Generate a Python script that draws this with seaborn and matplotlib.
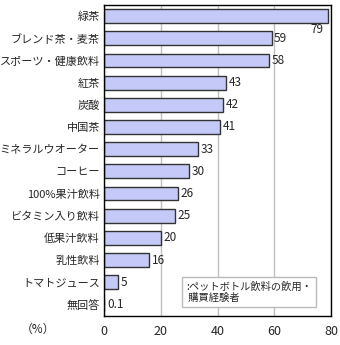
import matplotlib
matplotlib.use("Agg")
import matplotlib.pyplot as plt
import seaborn as sns
import pandas as pd
import numpy as np

categories = ["緑茶", "ブレンド茶・麦茶", "スポーツ・健康飲料", "紅茶", "炭酸", "中国茶",
              "ミネラルウオーター", "コーヒー", "100%果汁飲料", "ビタミン入り飲料",
              "低果汁飲料", "乳性飲料", "トマトジュース", "無回答"]
values = [79, 59, 58, 43, 42, 41, 33, 30, 26, 25, 20, 16, 5, 0.1]
value_labels = ["79", "59", "58", "43", "42", "41", "33", "30", "26", "25", "20", "16", "5", "0.1"]
xticks = [0, 20, 40, 60, 80]
legend_text = ":ペットボトル飲料の飲用・\n 購買経験者"

sns.set_style("white")
plt.rcParams['font.family'] = ['Noto Sans CJK JP', 'DejaVu Sans']

df = pd.DataFrame({"cat": categories, "val": values})

fig = plt.figure(figsize=(3.4, 3.45), dpi=100)
ax = fig.add_axes([0.306, 0.0855, 0.668, 0.90])

sns.barplot(data=df, y="cat", x="val", orient="h", color="#c4c9f7",
            edgecolor="#333333", linewidth=1.0, width=0.62, saturation=1, ax=ax)

ax.set_xlim(0, 80)
ax.set_ylim(len(categories) - 0.5, -0.5)
ax.set_xticks(xticks)
ax.set_xticklabels([str(t) for t in xticks], fontsize=9)
ax.tick_params(axis="x", length=0, pad=7)
ax.set_yticks(range(len(categories)))
ax.set_yticklabels(categories, fontsize=8)
ax.tick_params(axis="y", length=0, pad=3)
ax.set_yticks(np.arange(0.5, len(categories) - 1, 1), minor=True)
ax.tick_params(axis="y", which="minor", direction="in", length=3, width=1, color="black")
ax.set_xlabel("")
ax.set_ylabel("")
ax.grid(axis="x", color="#c0c0c0", linewidth=1)
ax.set_axisbelow(True)
for s in ax.spines.values():
    s.set_color("black")
    s.set_linewidth(1)

for i, (v, lab) in enumerate(zip(values, value_labels)):
    if i == 0:
        ax.text(v - 1.6, i + 0.3, lab, ha="right", va="top", fontsize=8.5)
    else:
        ax.text(v + 0.9, i, lab, ha="left", va="center", fontsize=8.5)

ax.text(0.36, 0.04, legend_text, transform=ax.transAxes, fontsize=7.4, va="bottom",
        ha="left", linespacing=1.2,
        bbox=dict(boxstyle="square,pad=0.4", facecolor="white", edgecolor="#bbbbbb"))

fig.text(0.06, 0.045, "（%）", fontsize=8.5, ha="left", va="center")

fig.savefig("out.png", dpi=100)
